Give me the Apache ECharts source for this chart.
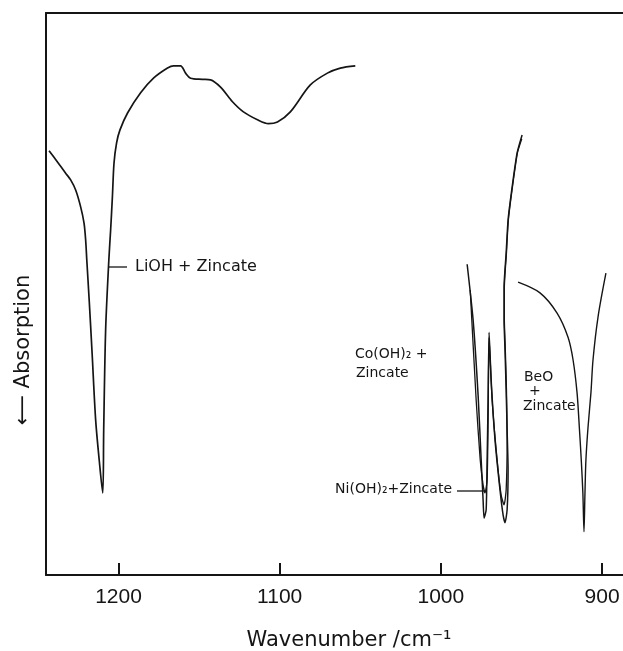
<!DOCTYPE html>
<html>
<head>
<meta charset="utf-8">
<script src="https://cdn.jsdelivr.net/npm/echarts@6/dist/echarts.min.js"></script>
<style>
  html, body { margin: 0; padding: 0; background: #fff; }
  #chart { width: 623px; height: 651px; }
</style>
</head>
<body>
<div id="chart"></div>
<script>
// wavenumber (cm-1), transmission (arbitrary, 0 = bottom axis, 100 = top frame)
const lioh = [
  [1243.1, 75.5], [1237.9, 73.5], [1232.8, 71.5], [1229.7, 70.3], [1226.6, 68.5],
  [1223.5, 65.5], [1221.4, 62.6], [1220.4, 59.6], [1219.7, 56.1], [1218.2, 48.9],
  [1216.4, 39.5], [1214.2, 27.6], [1212.0, 20.5], [1209.8, 14.6],
  [1209.2, 25.8], [1208.0, 43.6], [1206.0, 56.1], [1204.9, 61.4], [1203.8, 67.3],
  [1202.8, 73.3], [1201.2, 76.9], [1199.1, 79.2],
  [1194.4, 82.2], [1186.3, 85.8], [1178.3, 88.4], [1169.6, 90.2], [1165.9, 90.6],
  [1161.5, 90.6], [1158.4, 89.3], [1155.3, 88.4], [1148, 88.2], [1142.9, 88.1],
  [1136.7, 86.8], [1129.3, 84.2], [1122.5, 82.4], [1113.8, 81.0], [1107.0, 80.3],
  [1101.4, 80.6], [1093.4, 82.4], [1081.0, 87.2], [1070.4, 89.3], [1062.4, 90.2],
  [1053.1, 90.6]
]
const cozn = [
  [983.7, 55.3], [980.0, 45.4], [976.9, 32.0], [975.0, 20.5], [973.8, 13.3],
  [973.2, 10.1], [971.9, 11.6], [971.3, 20.5], [970.7, 31.1], [970.1, 43.2],
  [968.8, 34.7], [966.4, 24.0], [963.3, 15.1], [961.4, 10.7], [960.2, 9.3],
  [958.9, 11.6], [958.3, 18.7], [958.9, 25.8], [959.5, 32.9], [960.2, 40.0],
  [960.8, 45.4], [960.8, 51.2], [959.5, 57.3], [958.3, 63.2], [955.8, 69.0],
  [952.7, 75.1], [949.6, 78.3]
]
const nizn = [
  [981.8, 50.7], [978.1, 31.1], [975.6, 20.5], [973.8, 16.0], [972.6, 14.6],
  [971.3, 16.9], [970.7, 27.6], [970.1, 42.2], [968.2, 31.1], [965.1, 20.5],
  [962.6, 14.2], [960.8, 12.5], [959.5, 15.1], [958.9, 24.0], [959.3, 32.9],
  [960.0, 40.0], [960.6, 45.4], [960.6, 51.2], [959.3, 57.3], [958.1, 63.2],
  [955.6, 69.0], [952.5, 75.1], [949.8, 77.6]
]
const bezn = [
  [952.1, 52.1], [938.5, 50.2], [927.9, 46.6], [921.1, 42.3], [918.0, 38.3],
  [915.5, 32.4], [914.1, 26.3], [912.9, 20.5], [911.9, 14.6], [911.2, 7.7],
  [910.6, 14.6], [910.0, 20.5], [908.7, 26.3], [906.9, 32.4], [905.6, 38.3],
  [902.5, 45.9], [897.6, 53.7]
]
const tickValues = [900, 1000, 1100, 1200]

const ink = '#151515'
const font = 'DejaVu Sans'

function curve(name, data, width, smooth) {
  return {
    name: name,
    type: 'line',
    data: data,
    symbol: 'none',
    smooth: smooth,
    lineStyle: { color: ink, width: width },
    z: 3
  }
}

function note(text, x, y, size, align) {
  return {
    type: 'text',
    x: x,
    y: y,
    style: {
      text: text,
      fill: ink,
      font: (size || 14) + 'px "' + font + '"',
      align: align || 'left',
      verticalAlign: 'middle'
    }
  }
}

function leader(x1, x2, y) {
  return {
    type: 'line',
    shape: { x1: x1, y1: y, x2: x2, y2: y },
    style: { stroke: ink, lineWidth: 1.3 }
  }
}

const chart = echarts.init(document.getElementById('chart'))

chart.setOption({
  animation: false,
  backgroundColor: '#fff',
  grid: { left: 46, right: 0, top: 13, bottom: 76, outerBoundsMode: 'none' },
  xAxis: [
    {
      type: 'value',
      inverse: true,
      min: 887,
      max: 1245,
      axisLine: { lineStyle: { color: ink, width: 2 } },
      axisTick: {
        inside: true,
        length: 12,
        customValues: tickValues,
        lineStyle: { color: ink, width: 2 }
      },
      axisLabel: {
        customValues: tickValues,
        formatter: v => String(v),
        margin: 12,
        color: ink,
        fontFamily: 'Liberation Sans',
        fontSize: 21
      },
      splitLine: { show: false },
      name: 'Wavenumber /cm⁻¹',
      nameLocation: 'middle',
      nameGap: 55,
      nameTextStyle: {
        color: ink,
        fontFamily: font,
        fontSize: 21,
        padding: [0, 0, 0, 29]
      }
    },
    {
      type: 'value',
      position: 'top',
      inverse: true,
      min: 887,
      max: 1245,
      axisLine: { show: true, lineStyle: { color: ink, width: 2 } },
      axisTick: { show: false },
      axisLabel: { show: false },
      splitLine: { show: false }
    }
  ],
  yAxis: {
    type: 'value',
    min: 0,
    max: 100,
    axisLine: { show: true, lineStyle: { color: ink, width: 2 } },
    axisTick: { show: false },
    axisLabel: { show: false },
    splitLine: { show: false }
  },
  series: [
    curve('LiOH + Zincate', lioh, 1.7, 0.3),
    curve('Co(OH)2 + Zincate', cozn, 1.5, 0.2),
    curve('Ni(OH)2 + Zincate', nizn, 1.3, 0.2),
    curve('BeO + Zincate', bezn, 1.4, 0.3)
  ],
  graphic: [
    leader(108, 127, 267),
    note('LiOH + Zincate', 135, 267, 16),
    note('Co(OH)₂ +', 355, 354),
    note('Zincate', 356, 373),
    note('BeO', 524, 377),
    note('+', 529, 391),
    note('Zincate', 523, 406),
    leader(457, 485, 491),
    note('Ni(OH)₂+Zincate', 452, 489, 14, 'right'),
    {
      type: 'text',
      x: 24,
      y: 350,
      rotation: Math.PI / 2,
      style: {
        text: '⟵ Absorption',
        fill: ink,
        font: '21px "' + font + '"',
        align: 'center',
        verticalAlign: 'middle'
      }
    }
  ]
})
</script>
</body>
</html>
